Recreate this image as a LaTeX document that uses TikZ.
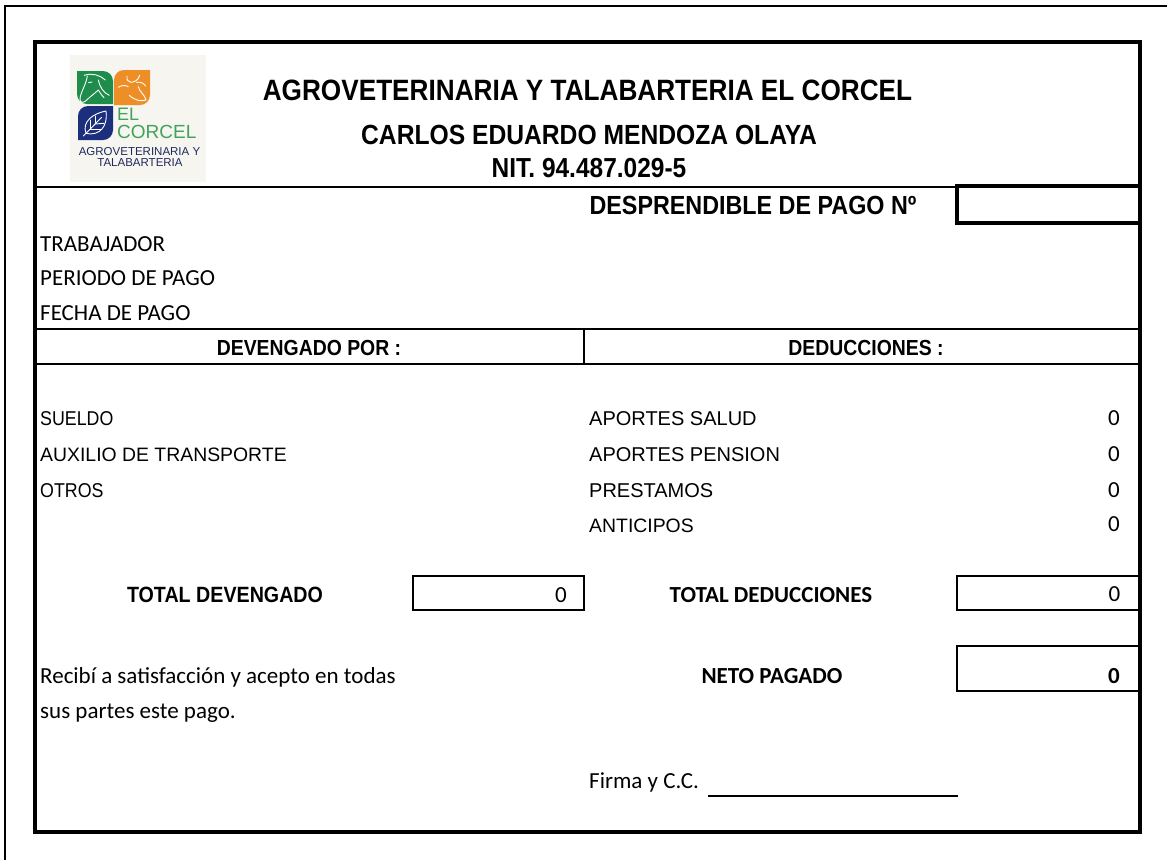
\documentclass[tikz,border=0pt]{standalone}
\usepackage{fontspec}
\setmainfont{Carlito}
\newfontfamily\arialf{Liberation Sans}
\newfontfamily\arialn[FakeStretch=0.89]{Liberation Sans}
\definecolor{lgreen}{HTML}{1E8C4B}
\definecolor{lorange}{HTML}{EE8E27}
\definecolor{lblue}{HTML}{1B2F7C}
\definecolor{ltext}{HTML}{3FA35C}
\definecolor{ltitle}{HTML}{1E2A5E}
\definecolor{lback}{HTML}{F7F5F0}
\tikzset{
  thick frame/.style={draw=black,line width=4pt},
  rule/.style={draw=black,line width=2pt},
  box/.style={draw=black,line width=2pt},
  title/.style={inner sep=0pt,anchor=base,font=\arialn\bfseries\fontsize{#1}{#1}\selectfont,text=black},
  lab/.style={inner sep=0pt,anchor=base west,font=\fontsize{23}{24}\selectfont,text=black},
  slab/.style={inner sep=0pt,anchor=base west,font=\arialf\fontsize{#1}{24}\selectfont,text=black},
  nlab/.style={inner sep=0pt,anchor=base west,font=\arialn\fontsize{20}{24}\selectfont,text=black},
  num/.style={inner sep=0pt,anchor=base east,font=\fontsize{23}{24}\selectfont,text=black},
  cb/.style={inner sep=0pt,anchor=base,font=\bfseries\fontsize{23}{24}\selectfont,text=black},
  logoline/.style={draw=white,line width=0.9pt,line cap=round,line join=round},
  logotext/.style={inner sep=0pt,anchor=base,font=\arialf\fontsize{#1}{#1}\selectfont},
}
\begin{document}
\begin{tikzpicture}[x=1pt,y=-1pt]
\useasboundingbox (0,0) rectangle (1167,860);
\fill[white] (0,0) rectangle (1167,860);
% outer page edge
\draw[black,line width=2pt] (5,860) -- (5,6) -- (1167,6);
% logo
\fill[lback] (70,55) rectangle (206,182);
\fill[lgreen] (77,71) -- (103,71) to[out=0,in=90] (113,81) -- (113,104) -- (87,104) to[out=180,in=-90] (77,94) -- cycle;
\fill[lorange] (124,70) -- (150,70) -- (150,95) to[out=-90,in=0] (140,105) -- (114,105) -- (114,80) to[out=90,in=180] cycle;
\fill[lblue] (88,106) -- (113,106) -- (113,130) to[out=-90,in=0] (103,140) -- (78,140) -- (78,116) to[out=90,in=180] cycle;
\begin{scope}[shift={(30,30)},x=0.3333pt,y=-0.3333pt]
% horse
\draw[logoline] (163,136) .. controls (185,128) and (210,135) .. (226,150);
\draw[logoline] (172,138) .. controls (168,165) and (150,190) .. (150,208) .. controls (150,218) and (160,220) .. (168,212) .. controls (180,200) and (195,190) .. (205,180) .. controls (212,190) and (216,198) .. (222,203);
\draw[logoline] (205,150) .. controls (208,170) and (222,190) .. (238,196);
\draw[logoline] (176,158) -- (186,156);
% cow
\draw[logoline] (291,138) .. controls (289,150) and (295,156) .. (303,157) .. controls (312,156) and (325,152) .. (329,136);
\draw[logoline] (265,172) .. controls (275,165) and (285,165) .. (295,170);
\draw[logoline] (320,157) .. controls (332,155) and (342,160) .. (347,168);
\draw[logoline] (325,170) .. controls (328,185) and (345,195) .. (348,210) .. controls (335,215) and (315,212) .. (298,196);
% leaf
\draw[logoline] (168,310) .. controls (155,275) and (190,250) .. (228,243) .. controls (232,270) and (225,310) .. (182,312) -- cycle;
\draw[logoline] (160,318) -- (215,262);
\draw[logoline] (180,298) -- (212,298);
\draw[logoline] (180,298) -- (180,270);
\draw[logoline] (195,282) -- (222,280);
\draw[logoline] (195,282) -- (195,258);
\end{scope}
\node[logotext=18,text=ltext,anchor=base west] (el) at (117,120.5) {EL};
\node[logotext=19,text=ltext,anchor=base west] (corcel) at (117,138) {CORCEL};
\node[logotext=11.5,text=ltitle] (agro) at (139.5,155) {AGROVETERINARIA Y};
\node[logotext=11.5,text=ltitle] (tala) at (140,166) {TALABARTERIA};
% frame
\draw[thick frame] (35,42) rectangle (1140,832);
% rules
\draw[rule] (35,186.5) -- (956,186.5);
\draw[rule] (35,329) -- (1140,329);
\draw[rule] (35,364) -- (1140,364);
\draw[rule] (584,329) -- (584,364);
\draw[black,line width=4pt] (1140,186) -- (957,186) -- (957,223) -- (1140,223);
% boxes
\draw[box] (413,575.5) rectangle (584,609.5);
\draw[box] (1140,575.5) -- (957,575.5) -- (957,609.5) -- (1140,609.5);
\draw[box] (1140,645.5) -- (957,645.5) -- (957,691) -- (1140,691);
\coordinate (sigstart) at (708,796);
\coordinate (sigend) at (958,796);
\draw[rule] (sigstart) -- (sigend);
% titles
\node[title=29.4] (t1) at (587.5,100.5) {AGROVETERINARIA Y TALABARTERIA EL CORCEL};
\node[title=27.7] (t2) at (589,144) {CARLOS EDUARDO MENDOZA OLAYA};
\node[title=27.5] (t3) at (589,177) {NIT. 94.487.029-5};
\node[title=26.2] (t4) at (753,214) {DESPRENDIBLE DE PAGO Nº};
% left labels
\node[lab] (a1) at (40,251.5) {TRABAJADOR};
\node[lab] (a2) at (40,285) {PERIODO DE PAGO};
\node[lab] (a3) at (40,320.5) {FECHA DE PAGO};
\node[title=21.8] (d1) at (309,355.5) {DEVENGADO POR :};
\node[title=21.8] (d2) at (866,355.5) {DEDUCCIONES :};
\node[nlab] (s1) at (40,425) {SUELDO};
\node[slab=19.4] (s2) at (40,461) {AUXILIO DE TRANSPORTE};
\node[nlab] (s3) at (40,497) {OTROS};
\node[slab=20] (r1) at (589,425) {APORTES SALUD};
\node[slab=20] (r2) at (589,461) {APORTES PENSION};
\node[slab=20] (r3) at (589,497) {PRESTAMOS};
\node[slab=19.4] (r4) at (589,532) {ANTICIPOS};
\node[num] (n1) at (1120,425.5) {0};
\node[num] (n2) at (1120,461) {0};
\node[num] (n3) at (1120,497) {0};
\node[num] (n4) at (1120,531.5) {0};
\node[title=22.1] (td) at (225,602) {TOTAL DEVENGADO};
\node[num] (v1) at (567,602) {0};
\node[cb] (tdd) at (771,602) {TOTAL DEDUCCIONES};
\node[num] (v2) at (1120.5,601.5) {0};
\node[cb] (np) at (772,683) {NETO PAGADO};
\node[num,font=\bfseries\fontsize{23}{24}\selectfont] (v3) at (1120,683) {0};
\node[lab] (rec) at (40,683) {Recibí a satisfacción y acepto en todas};
\node[lab] (rec2) at (40,718) {sus partes este pago.};
\node[lab] (firma) at (589,788) {Firma y C.C.};
\end{tikzpicture}
\end{document}
